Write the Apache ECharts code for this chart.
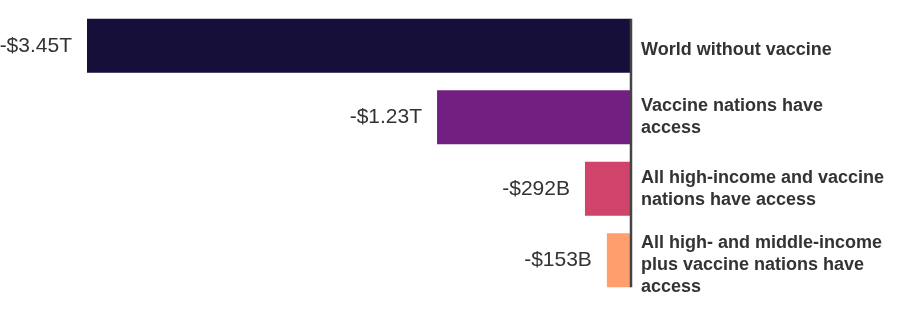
<!DOCTYPE html>
<html>
<head>
<meta charset="utf-8">
<script src="https://cdn.jsdelivr.net/npm/echarts@6/dist/echarts.min.js"></script>
<style>
html,body{margin:0;padding:0;background:#fff;}
#chart{width:913px;height:330px;}
</style>
</head>
<body>
<div id="chart"></div>
<script>
var categories = [
  "World without vaccine",
  "Vaccine nations have\naccess",
  "All high-income and vaccine\nnations have access",
  "All high- and middle-income\nplus vaccine nations have\naccess"
];
var valuesBillions = [-3450, -1230, -292, -153];
var valueLabels = ["-$3.45T", "-$1.23T", "-$292B", "-$153B"];
var barColors = ["#160f3a", "#721f81", "#d0436b", "#fe9f6d"];

var chart = echarts.init(document.getElementById('chart'), null, {renderer: 'canvas'});
var BAR_W = 54;
var labelFont = {fontFamily: 'Liberation Sans, Arial, sans-serif', fontWeight: 'bold',
  fontSize: 18, color: '#333', lineHeight: 22};
chart.setOption({
  animation: false,
  grid: {left: 87, right: 282, top: 10, bottom: 34, containLabel: false},
  xAxis: {
    type: 'value', min: -3450, max: 0,
    show: false
  },
  yAxis: {
    type: 'category', inverse: true, position: 'right',
    data: categories,
    axisLine: {show: false}, axisTick: {show: false},
    axisLabel: Object.assign({
      align: 'left', margin: 10,
      formatter: function (c) {
        var lines = c.split('\n');
        var spacer = lines.length === 1 ? '{s1| }\n' : (lines.length === 3 ? '{s3| }\n' : '');
        return spacer + lines.map(function (l) { return '{n|' + l + '}'; }).join('\n');
      },
      rich: {
        n: Object.assign({}, labelFont),
        s1: {fontSize: 4, lineHeight: 8},
        s3: {fontSize: 4, lineHeight: 10}
      }
    }, labelFont)
  },
  series: [
    {
      type: 'bar', barWidth: BAR_W,
      data: valuesBillions.map(function (v, i) {
        return {value: v, itemStyle: {color: barColors[i]},
          label: {formatter: valueLabels[i]}};
      }),
      label: {
        show: true, position: 'left', distance: 15,
        fontFamily: 'Liberation Sans, Arial, sans-serif', fontSize: 21, color: '#333'
      }
    },
    {
      type: 'custom',
      data: [[0]],
      z: 5,
      renderItem: function (params, api) {
        var first = api.coord([0, 0]);
        var last = api.coord([0, categories.length - 1]);
        var half = BAR_W / 2;
        return {
          type: 'line',
          shape: {x1: first[0], y1: first[1] - half, x2: last[0], y2: last[1] + half},
          style: {stroke: '#444', lineWidth: 2.5}
        };
      }
    }
  ]
});
</script>
</body>
</html>
